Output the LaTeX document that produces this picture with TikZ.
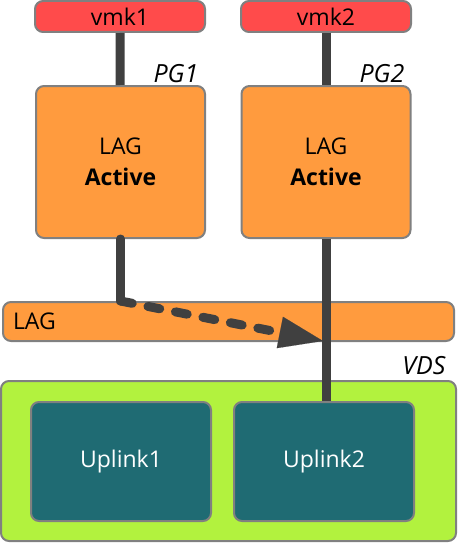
\documentclass[tikz,border=0pt]{standalone}
\usepackage{fontspec}
\setmainfont{Open Sans}
\usetikzlibrary{arrows.meta}
\definecolor{vmkred}{RGB}{255,75,75}
\definecolor{lagorange}{RGB}{255,155,62}
\definecolor{vdsgreen}{RGB}{178,242,62}
\definecolor{upteal}{RGB}{31,107,115}
\definecolor{edgegray}{RGB}{128,128,128}
\definecolor{linkgray}{RGB}{64,64,64}

\begin{document}
\begin{tikzpicture}[x=1pt, y=-1pt,
                    >={Triangle[length=44pt, width=32pt, line width=0.1pt]},
                    line width=9pt]
\tikzstyle{every node}=[font=\fontsize{23}{31}\selectfont, inner sep=0pt]
\tikzstyle{box}=[shape=rectangle, rounded corners=8pt, draw=edgegray,
                    line width=2pt, align=center]
\tikzstyle{vmk}=[box, fill=vmkred, minimum width=170pt, minimum height=31pt,
                    font=\fontsize{23}{26}\selectfont]
\tikzstyle{pg}=[box, fill=lagorange, minimum width=169pt, minimum height=152pt]
\tikzstyle{uplink}=[box, fill=upteal, text=white, minimum width=180pt,
                    minimum height=119pt]
\tikzstyle{tag}=[font=\fontsize{25}{28}\selectfont\itshape]
\tikzstyle{link}=[draw=linkgray, line width=9pt]
  \useasboundingbox (0,0) rectangle (458,543);
  % uplinks and switch
  \node[box, fill=vdsgreen, minimum width=455pt, minimum height=160pt] (VDS) at (228.5,461) {};
  \node[uplink] (Up1) at (121,461.5) {Uplink1};
  \node[uplink] (Up2) at (324,461.5) {Uplink2};
  \node[tag] (VDSlbl) at (424,366) {VDS};
  % lag bar
  \node[box, fill=lagorange, text width=431pt, inner xsep=10pt, minimum height=39pt,
        align=left] (LAG) at (228.5,321.5) {LAG};
  % port groups
  \node[pg] (PG1) at (120.5,162) {LAG\\\textbf{Active}};
  \node[pg] (PG2) at (326,162) {LAG\\\textbf{Active}};
  \node[tag] (PG1lbl) at (176,74) {PG1};
  \node[tag] (PG2lbl) at (382,74) {PG2};
  \node[vmk] (vmk1) at (120,16.5) {vmk1};
  \node[vmk] (vmk2) at (326,16.5) {vmk2};
  % links
  \coordinate (bend) at (PG1.south |- LAG.north);
  \coordinate (tip) at (323,341);
  \draw[link] (vmk1) -- (PG1);
  \draw[link] (vmk2) -- (PG2);
  \draw[link, line cap=round] (PG1.south) -- (bend);
  \draw[link, line cap=round, dash pattern=on 12pt off 16pt, ->] (bend) -- (tip);
  \draw[link] (PG2.south) -- (PG2.south |- Up2.north);
\end{tikzpicture}
\end{document}
